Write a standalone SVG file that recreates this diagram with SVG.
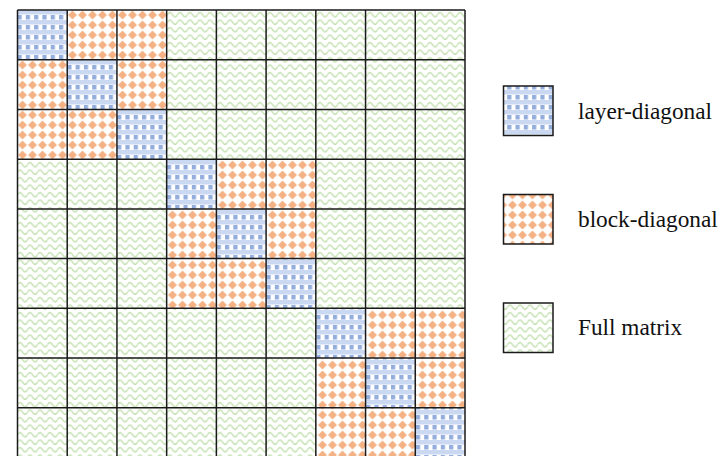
<svg xmlns="http://www.w3.org/2000/svg" width="723" height="456" viewBox="0 0 723 456">
  <defs>
    <pattern id="pLayer" patternUnits="userSpaceOnUse" x="17.5" y="10" width="8.3" height="10">
      <rect width="8.3" height="10" fill="#ffffff"/>
      <rect x="0" y="0" width="8.3" height="4.5" fill="#cbd8f1"/>
      <rect x="0" y="5" width="4.2" height="4.5" fill="#93aedd"/>
    </pattern>
    <pattern id="pBlock" patternUnits="userSpaceOnUse" x="17.5" y="10" width="10" height="10">
      <rect width="10" height="10" fill="#ffffff"/>
      <path d="M5,0.6 L9.4,5 L5,9.4 L0.6,5 Z" fill="#f4b183"/>
    </pattern>
    <pattern id="pFull" patternUnits="userSpaceOnUse" x="17.5" y="10" width="10" height="7.5">
      <rect width="10" height="7.5" fill="#ffffff"/>
      <path d="M0,4.7 Q2.5,0.3 5,4.7 T10,4.7" fill="none" stroke="#b7dba0" stroke-width="1.3"/>
    </pattern>
    <style>
      .lay { fill: url(#pLayer); }
      .blk { fill: url(#pBlock); }
      .ful { fill: url(#pFull); }
      .grid line { stroke: #1a1a1a; stroke-width: 1.5; }
      .lbox { stroke: #1a1a1a; stroke-width: 1.5; }
      .ltxt { font-family: "Liberation Serif", "Times New Roman", serif; font-size: 23.3px; fill: #111; }
    </style>
  </defs>
  <rect width="723" height="456" fill="#ffffff"/>

  <g id="matrix">
    <!-- Row 0 -->
    <rect class="lay" x="17.5" y="10" width="49.72" height="49.72"/>
    <rect class="blk" x="67.22" y="10" width="49.72" height="49.72"/>
    <rect class="blk" x="116.94" y="10" width="49.72" height="49.72"/>
    <rect class="ful" x="166.66" y="10" width="298.34" height="49.72"/>
    <!-- Row 1 -->
    <rect class="blk" x="17.5" y="59.72" width="49.72" height="49.72"/>
    <rect class="lay" x="67.22" y="59.72" width="49.72" height="49.72"/>
    <rect class="blk" x="116.94" y="59.72" width="49.72" height="49.72"/>
    <rect class="ful" x="166.66" y="59.72" width="298.34" height="49.72"/>
    <!-- Row 2 -->
    <rect class="blk" x="17.5" y="109.44" width="49.72" height="49.72"/>
    <rect class="blk" x="67.22" y="109.44" width="49.72" height="49.72"/>
    <rect class="lay" x="116.94" y="109.44" width="49.72" height="49.72"/>
    <rect class="ful" x="166.66" y="109.44" width="298.34" height="49.72"/>
    <!-- Row 3 -->
    <rect class="ful" x="17.5" y="159.16" width="149.16" height="49.72"/>
    <rect class="lay" x="166.66" y="159.16" width="49.72" height="49.72"/>
    <rect class="blk" x="216.38" y="159.16" width="49.72" height="49.72"/>
    <rect class="blk" x="266.1" y="159.16" width="49.72" height="49.72"/>
    <rect class="ful" x="315.82" y="159.16" width="149.18" height="49.72"/>
    <!-- Row 4 -->
    <rect class="ful" x="17.5" y="208.88" width="149.16" height="49.72"/>
    <rect class="blk" x="166.66" y="208.88" width="49.72" height="49.72"/>
    <rect class="lay" x="216.38" y="208.88" width="49.72" height="49.72"/>
    <rect class="blk" x="266.1" y="208.88" width="49.72" height="49.72"/>
    <rect class="ful" x="315.82" y="208.88" width="149.18" height="49.72"/>
    <!-- Row 5 -->
    <rect class="ful" x="17.5" y="258.6" width="149.16" height="49.72"/>
    <rect class="blk" x="166.66" y="258.6" width="49.72" height="49.72"/>
    <rect class="blk" x="216.38" y="258.6" width="49.72" height="49.72"/>
    <rect class="lay" x="266.1" y="258.6" width="49.72" height="49.72"/>
    <rect class="ful" x="315.82" y="258.6" width="149.18" height="49.72"/>
    <!-- Row 6 -->
    <rect class="ful" x="17.5" y="308.32" width="298.32" height="49.72"/>
    <rect class="lay" x="315.82" y="308.32" width="49.72" height="49.72"/>
    <rect class="blk" x="365.54" y="308.32" width="49.72" height="49.72"/>
    <rect class="blk" x="415.26" y="308.32" width="49.74" height="49.72"/>
    <!-- Row 7 -->
    <rect class="ful" x="17.5" y="358.04" width="298.32" height="49.72"/>
    <rect class="blk" x="315.82" y="358.04" width="49.72" height="49.72"/>
    <rect class="lay" x="365.54" y="358.04" width="49.72" height="49.72"/>
    <rect class="blk" x="415.26" y="358.04" width="49.74" height="49.72"/>
    <!-- Row 8 -->
    <rect class="ful" x="17.5" y="407.76" width="298.32" height="49.72"/>
    <rect class="blk" x="315.82" y="407.76" width="49.72" height="49.72"/>
    <rect class="blk" x="365.54" y="407.76" width="49.72" height="49.72"/>
    <rect class="lay" x="415.26" y="407.76" width="49.74" height="49.72"/>
  </g>

  <g id="grid" class="grid">
    <line x1="17.5" y1="10" x2="17.5" y2="458"/>
    <line x1="67.22" y1="10" x2="67.22" y2="458"/>
    <line x1="116.94" y1="10" x2="116.94" y2="458"/>
    <line x1="166.66" y1="10" x2="166.66" y2="458"/>
    <line x1="216.38" y1="10" x2="216.38" y2="458"/>
    <line x1="266.1" y1="10" x2="266.1" y2="458"/>
    <line x1="315.82" y1="10" x2="315.82" y2="458"/>
    <line x1="365.54" y1="10" x2="365.54" y2="458"/>
    <line x1="415.26" y1="10" x2="415.26" y2="458"/>
    <line x1="465" y1="10" x2="465" y2="458"/>
    <line x1="17.5" y1="10" x2="465" y2="10"/>
    <line x1="17.5" y1="59.72" x2="465" y2="59.72"/>
    <line x1="17.5" y1="109.44" x2="465" y2="109.44"/>
    <line x1="17.5" y1="159.16" x2="465" y2="159.16"/>
    <line x1="17.5" y1="208.88" x2="465" y2="208.88"/>
    <line x1="17.5" y1="258.6" x2="465" y2="258.6"/>
    <line x1="17.5" y1="308.32" x2="465" y2="308.32"/>
    <line x1="17.5" y1="358.04" x2="465" y2="358.04"/>
    <line x1="17.5" y1="407.76" x2="465" y2="407.76"/>
  </g>

  <g id="legend-layer">
    <rect class="lbox" x="503.5" y="86" width="49.5" height="49.5" fill="url(#pLayer)"/>
    <text class="ltxt" x="578" y="118.5">layer-diagonal</text>
  </g>
  <g id="legend-block">
    <rect class="lbox" x="503.5" y="194.5" width="49.5" height="49.5" fill="url(#pBlock)"/>
    <text class="ltxt" x="578" y="227">block-diagonal</text>
  </g>
  <g id="legend-full">
    <rect class="lbox" x="503.5" y="303" width="49.5" height="49.5" fill="url(#pFull)"/>
    <text class="ltxt" x="578" y="335">Full matrix</text>
  </g>
</svg>
